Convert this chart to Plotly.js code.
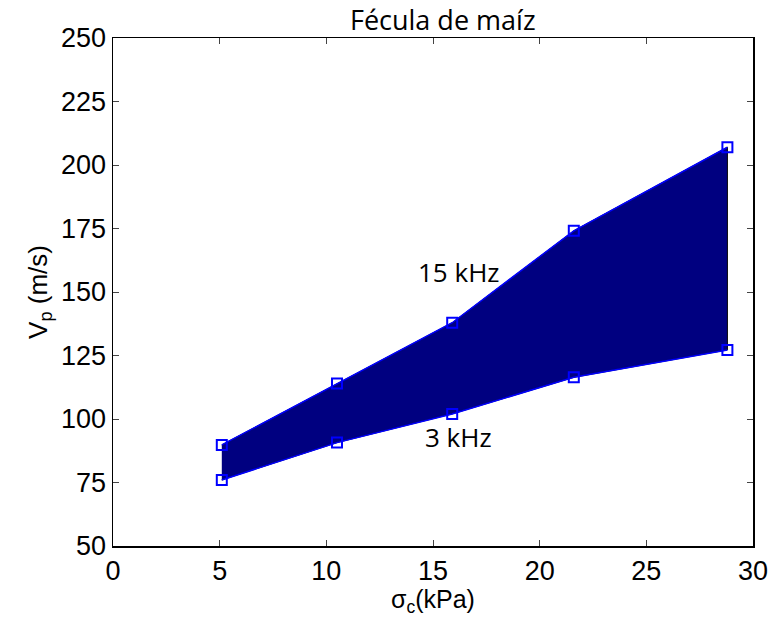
<!DOCTYPE html>
<html>
<head>
<meta charset="utf-8">
<script src="https://cdn.plot.ly/plotly-3.0.1.min.js"></script>
<style>html,body{margin:0;padding:0;background:#fff;}</style>
</head>
<body>
<div id="chart" style="width:770px;height:617px;"></div>
<script>
const sigmaC = [5.1, 10.5, 15.9, 21.6, 28.8];
const vp15kHz = [89.8, 114, 137.9, 174.1, 207];
const vp3kHz = [76, 90.7, 102, 116.4, 127.2];
const seriesLabels = ["15 kHz", "3 kHz"];
const labelPos = [[16.2, 158], [16.2, 93]];

const polyX = sigmaC.concat(sigmaC.slice().reverse());
const polyY = vp15kHz.concat(vp3kHz.slice().reverse());

const traces = [
  {x: polyX, y: polyY, type: 'scatter', mode: 'lines', fill: 'toself',
   fillcolor: '#000080', line: {color: '#000000', width: 1}, hoverinfo: 'skip'},
  {x: sigmaC, y: vp15kHz, type: 'scatter', mode: 'lines+markers', name: seriesLabels[0],
   line: {color: '#0000ff', width: 1.5},
   marker: {symbol: 'square-open', size: 10, color: '#0000ff', line: {width: 2, color: '#0000ff'}}},
  {x: sigmaC, y: vp3kHz, type: 'scatter', mode: 'lines+markers', name: seriesLabels[1],
   line: {color: '#0000ff', width: 1.5},
   marker: {symbol: 'square-open', size: 10, color: '#0000ff', line: {width: 2, color: '#0000ff'}}}
];

const axisCommon = {
  showgrid: false, zeroline: false, showline: true, mirror: 'ticks',
  linecolor: '#000', linewidth: 1.5, ticks: 'inside', ticklen: 6, tickcolor: '#444',
  tickfont: {family: 'Liberation Sans, Arial, sans-serif', size: 27, color: '#000'}
};

const layout = {
  width: 770, height: 617,
  margin: {l: 113, r: 17, t: 38, b: 71},
  paper_bgcolor: '#fff', plot_bgcolor: '#fff',
  showlegend: false,
  title: {text: 'Fécula de maíz', x: 0.575, xanchor: 'center', y: 0.967, yanchor: 'middle',
          font: {family: 'Open Sans, Noto Sans, sans-serif', size: 27, color: '#000'}},
  xaxis: Object.assign({}, axisCommon, {
    range: [0, 30], tickvals: [0, 5, 10, 15, 20, 25, 30],
    title: {text: 'σ<sub>c</sub>(kPa)', standoff: 2,
            font: {family: 'Liberation Sans, Arial, sans-serif', size: 25, color: '#000'}}
  }),
  yaxis: Object.assign({}, axisCommon, {
    range: [50, 250], tickvals: [50, 75, 100, 125, 150, 175, 200, 225, 250],
    title: {text: 'V<sub>p</sub> (m/s)', standoff: 6,
            font: {family: 'Liberation Sans, Arial, sans-serif', size: 26, color: '#000'}}
  }),
  annotations: seriesLabels.map((t, i) => ({
    x: labelPos[i][0], y: labelPos[i][1], xref: 'x', yref: 'y', text: t, showarrow: false,
    font: {family: 'Open Sans, Noto Sans, sans-serif', size: 26, color: '#000'}
  }))
};

Plotly.newPlot('chart', traces, layout, {displayModeBar: false, staticPlot: true});
</script>
</body>
</html>
